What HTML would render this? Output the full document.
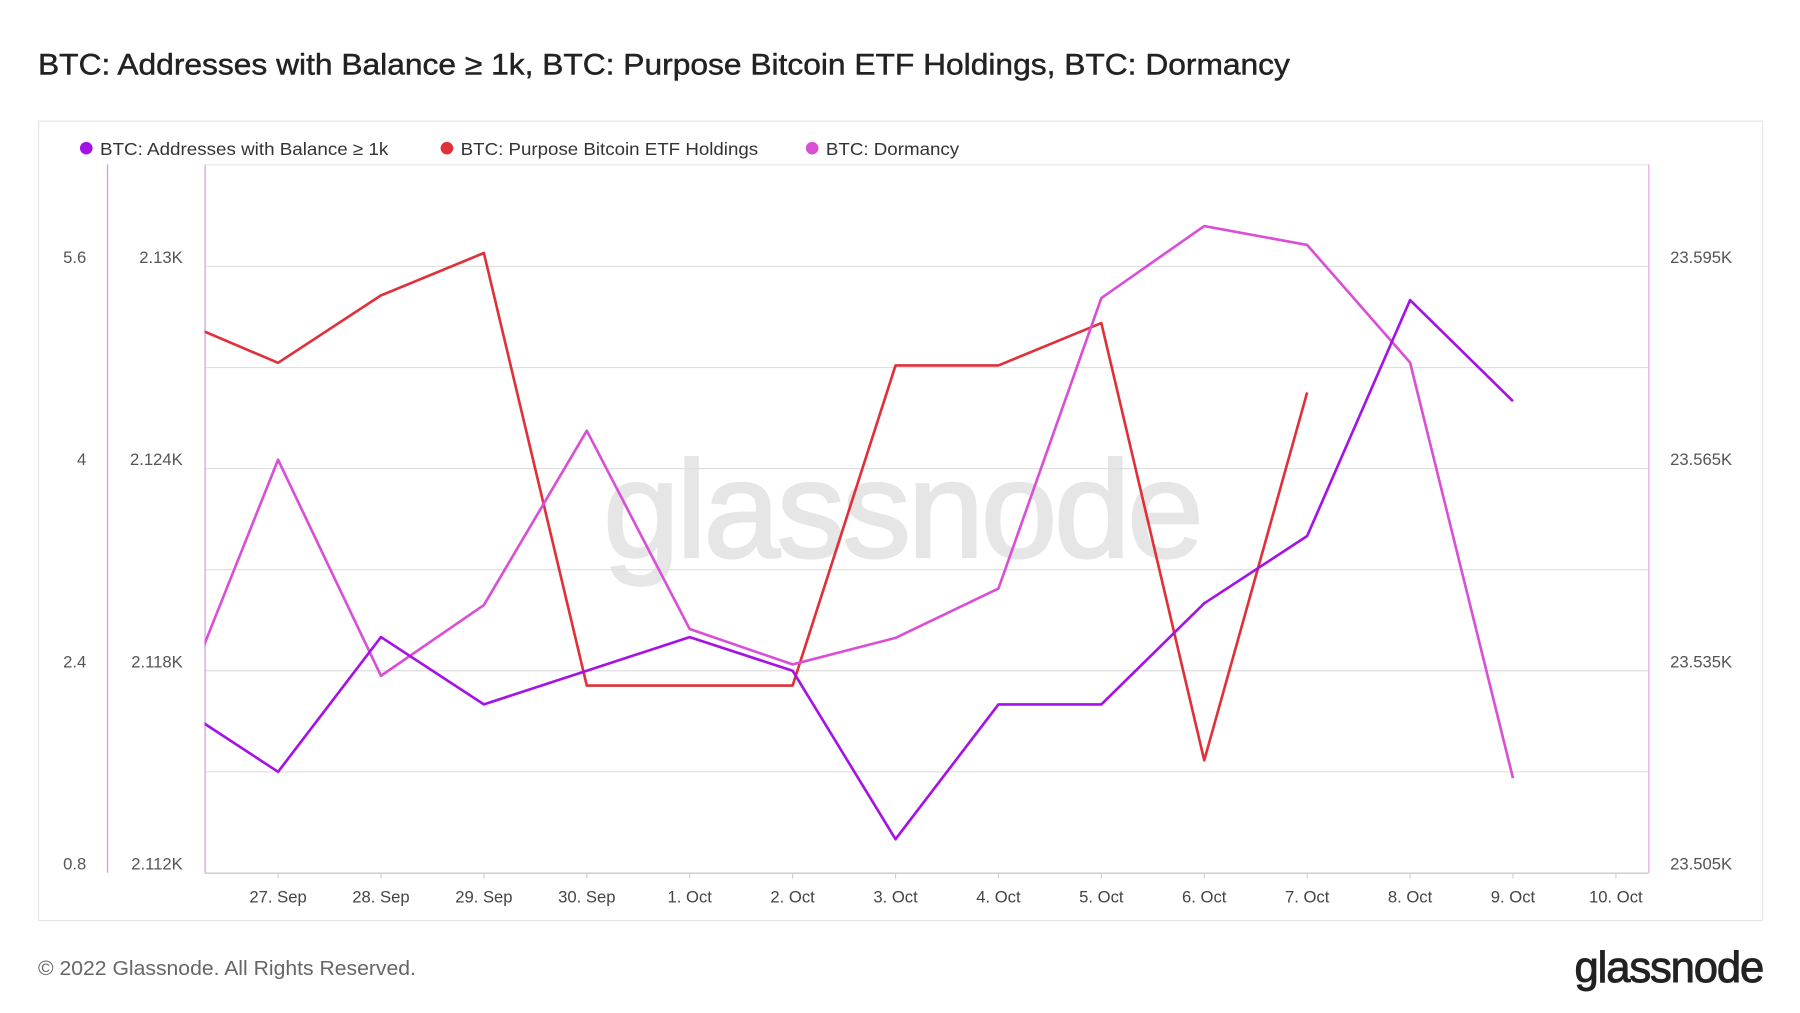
<!DOCTYPE html>
<html><head><meta charset="utf-8"><style>
html,body{margin:0;padding:0;background:#fff;}
svg{display:block;font-family:"Liberation Sans",sans-serif;}
</style></head><body>
<svg id="chart" width="1800" height="1013" viewBox="0 0 1567 882" xmlns="http://www.w3.org/2000/svg">
<rect width="1567" height="882" fill="#fff"/>
<text x="33" y="65" font-size="25.5" fill="#222" textLength="1090" lengthAdjust="spacingAndGlyphs" stroke="#222" stroke-width="0.4">BTC: Addresses with Balance ≥ 1k, BTC: Purpose Bitcoin ETF Holdings, BTC: Dormancy</text>
<rect x="33.5" y="105.5" width="1501" height="696" fill="none" stroke="#e6e6e6"/>
<g font-size="15.5" fill="#333">
<g><circle cx="75" cy="129" r="5.5" fill="#a412e6"/><text x="87" y="135" textLength="251" lengthAdjust="spacingAndGlyphs">BTC: Addresses with Balance ≥ 1k</text></g>
<g><circle cx="389" cy="129" r="5.5" fill="#e0303a"/><text x="401" y="135" textLength="259" lengthAdjust="spacingAndGlyphs">BTC: Purpose Bitcoin ETF Holdings</text></g>
<g><circle cx="707" cy="129" r="5.5" fill="#d94fd6"/><text x="719" y="135" textLength="116" lengthAdjust="spacingAndGlyphs">BTC: Dormancy</text></g>
</g>
<text x="785" y="485" font-size="120" fill="#e6e6e6" text-anchor="middle" letter-spacing="-3" stroke="#e6e6e6" stroke-width="2">glassnode</text>
<g id="grid"></g>
<g id="axes"></g>
<defs><clipPath id="clip"><rect x="178" y="143" width="1257" height="617"/></clipPath></defs>
<g id="series" clip-path="url(#clip)"></g>
<text x="33" y="849" font-size="18" fill="#666" textLength="329" lengthAdjust="spacingAndGlyphs">© 2022 Glassnode. All Rights Reserved.</text>
<text x="1535" y="855" font-size="38" fill="#222" text-anchor="end" letter-spacing="-1" stroke="#222" stroke-width="0.8">glassnode</text>
</svg>
<script>
const dates=["26. Sep","27. Sep","28. Sep","29. Sep","30. Sep","1. Oct","2. Oct","3. Oct","4. Oct","5. Oct","6. Oct","7. Oct","8. Oct","9. Oct","10. Oct"];
const addresses=[2117,2115,2119,2117,2118,2119,2118,2113,2117,2117,2120,2122,2129,2126];
const etfHoldings=[23587.2,23580.7,23590.7,23597,23532.8,23532.8,23532.8,23580.3,23580.3,23586.6,23521.7,23576.3];
const dormancy=[2.03,4.07,2.36,2.92,4.30,2.73,2.45,2.66,3.05,5.35,5.92,5.77,4.84,1.55];
const leftTicks=[0.8,2.4,4,5.6];
const midTicks=["2.112K","2.118K","2.124K","2.13K"];
const midTickVals=[2112,2118,2124,2130];
const rightTicks=["23.505K","23.535K","23.565K","23.595K"];
const rightTickVals=[23505,23535,23565,23595];

const NS="http://www.w3.org/2000/svg";
const X=i=>242+(i-1)*89.6;
const yDorm=v=>760-(v-0.8)/1.6*176;
const yAddr=v=>760-(v-2112)/18*528;
const yEtf=v=>760-(v-23505)/90*528;
function mk(tag,attrs,parent){const e=document.createElementNS(NS,tag);for(const k in attrs)e.setAttribute(k,attrs[k]);parent.appendChild(e);return e;}
const grid=document.getElementById('grid'),axes=document.getElementById('axes'),series=document.getElementById('series');
for(let k=0;k<7;k++){const y=232+k*88.0;
 const l=mk('line',{x1:178,x2:1435,y1:y,y2:y,stroke:'#dedede','stroke-width':1},grid);
 
 }
let a;
a=mk('line',{x1:93.5,x2:93.5,y1:143,y2:760,stroke:'#e39be0','stroke-width':1.2},axes);

a=mk('line',{x1:178.5,x2:178.5,y1:143,y2:760,stroke:'#d6a6ef','stroke-width':1.2},axes);

a=mk('line',{x1:1435.5,x2:1435.5,y1:143,y2:760,stroke:'#eab0e8','stroke-width':1.2},axes);

a=mk('line',{x1:178,x2:1435,y1:760.5,y2:760.5,stroke:'#cfcfcf','stroke-width':1},axes);

a=mk('line',{x1:178,x2:1435,y1:143.5,y2:143.5,stroke:'#e8e8e8','stroke-width':1},axes);

leftTicks.forEach(v=>{const t=mk('text',{x:75,y:yDorm(v)-3,'font-size':14.5,fill:'#555','text-anchor':'end'},axes);t.textContent=String(v);
 });
midTicks.forEach((s,i)=>{const t=mk('text',{x:159,y:yAddr(midTickVals[i])-3,'font-size':14.5,fill:'#555','text-anchor':'end'},axes);t.textContent=s;
 });
rightTicks.forEach((s,i)=>{const t=mk('text',{x:1454,y:yEtf(rightTickVals[i])-3,'font-size':14.5,fill:'#555'},axes);t.textContent=s;
 });
dates.forEach((d,i)=>{if(i===0)return;const x=X(i);
 const tk=mk('line',{x1:x,x2:x,y1:760,y2:765,stroke:'#cfcfcf'},axes);
 
 const t=mk('text',{x:x,y:786,'font-size':14.5,fill:'#444','text-anchor':'middle'},axes);t.textContent=d;
 });
function line(vals,yf,color,name){const pts=vals.map((v,i)=>X(i).toFixed(1)+','+yf(v).toFixed(1)).join(' ');
 const p=mk('polyline',{points:pts,fill:'none',stroke:color,'stroke-width':2.3,'stroke-linejoin':'round'},series);
 }
line(etfHoldings,yEtf,'#e0303a','etf-holdings-line');
line(dormancy,yDorm,'#d94fd6','dormancy-line');
line(addresses,yAddr,'#a412e6','addresses-line');
</script>
</body></html>
